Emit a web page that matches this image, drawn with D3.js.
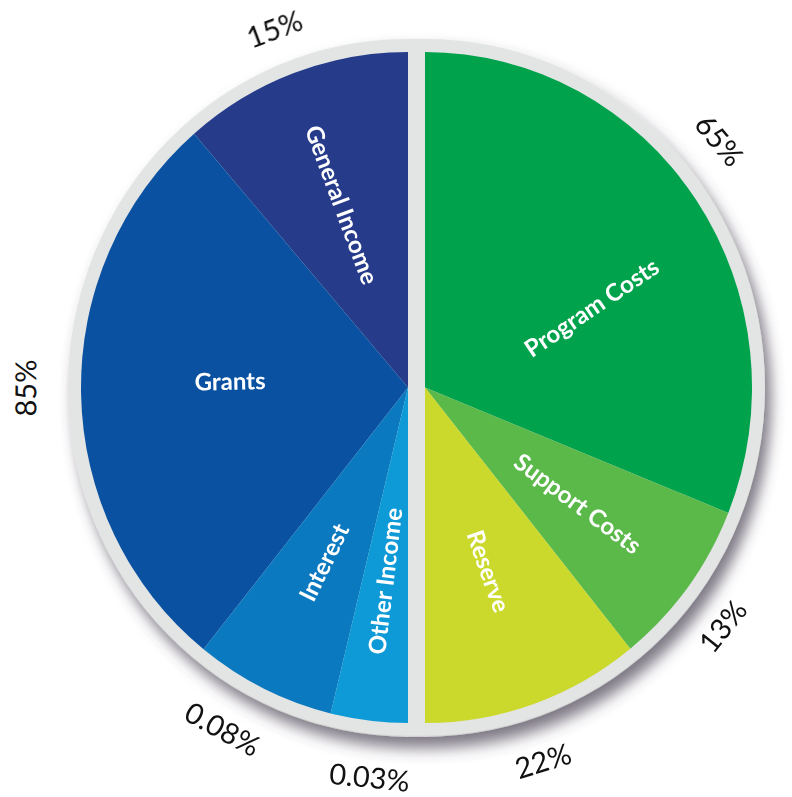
<!DOCTYPE html>
<html lang="en">
<head>
  <meta charset="UTF-8">
  <title>Income and Expenses</title>
  <script src="https://d3js.org/d3.v7.min.js"></script>
  <style>
    body { margin: 0; background: #ffffff; }
    .inner-label { fill: #ffffff; font-family: Lato, "Open Sans", sans-serif; font-weight: 700; font-size: 24px; }
    .pct-label { fill: #111111; font-family: Lato, "Open Sans", sans-serif; font-size: 29px; }
  </style>
</head>
<body>
  <script>
    // Income (left half, counter-clockwise from the top)
    const incomeNames = ["General Income", "Grants", "Interest", "Other Income"];
    const incomeShare = [22.7, 55.8, 13.9, 7.6];   // drawn slice sizes
    const incomePct = ["15%", "85%", "0.08%", "0.03%"];
    const incomeColors = ["#263c8b", "#0a52a1", "#0a79bf", "#0d9ad7"];

    // Expenses (right half, clockwise from the top)
    const expenseNames = ["Program Costs", "Support Costs", "Reserve"];
    const expenseShare = [62.2, 16.2, 21.6];
    const expensePct = ["65%", "13%", "22%"];
    const expenseColors = ["#00a24c", "#5bb94a", "#cbd92c"];

    const width = 792, height = 797;
    const cy = 387.5, leftCx = 408, rightCx = 425;
    const radius = 327, ring = 13, squash = 1.026;

    // small hand nudges for label placement: [degrees along the half, extra radius px]
    const nameNudge = { "Program Costs": [9, -6], "Grants": [-3, -12] };
    const pctNudge = {
      "85%": [-1, 0], "0.08%": [-2.3, 7], "0.03%": [1.2, 10],
      "65%": [-6, 2], "13%": [2.2, 0], "22%": [1.9, 10]
    };

    const svg = d3.select("body").append("svg")
      .attr("width", width)
      .attr("height", height);

    const defs = svg.append("defs");
    defs.append("filter")
      .attr("id", "shadow")
      .attr("x", "-20%").attr("y", "-20%")
      .attr("width", "140%").attr("height", "140%")
      .append("feDropShadow")
      .attr("dx", 6).attr("dy", 11)
      .attr("stdDeviation", 7)
      .attr("flood-color", "#46404f")
      .attr("flood-opacity", 0.7);

    // gray backing: two semicircles + middle bar
    const back = svg.append("g")
      .attr("transform", `translate(0, ${cy}) scale(1, ${squash})`)
      .attr("filter", "url(#shadow)");
    const backArc = d3.arc().innerRadius(0).outerRadius(radius + ring);
    back.append("path")
      .attr("transform", `translate(${leftCx}, 0)`)
      .attr("d", backArc({ startAngle: 0, endAngle: -Math.PI }))
      .attr("fill", "#e3e4e4");
    back.append("path")
      .attr("transform", `translate(${rightCx}, 0)`)
      .attr("d", backArc({ startAngle: 0, endAngle: Math.PI }))
      .attr("fill", "#e3e4e4");
    back.append("rect")
      .attr("x", leftCx - 1).attr("y", -(radius + ring))
      .attr("width", rightCx - leftCx + 2).attr("height", 2 * (radius + ring))
      .attr("fill", "#e3e4e4");

    const arc = d3.arc().innerRadius(0).outerRadius(radius);

    function drawHalf(names, share, pcts, colors, cx, dir) {
      const pie = d3.pie().sort(null).startAngle(0).endAngle(dir * Math.PI);
      const arcs = pie(share).map((d, i) => ({ ...d, name: names[i], pct: pcts[i], color: colors[i] }));

      svg.append("g")
        .attr("transform", `translate(${cx}, ${cy}) scale(1, ${squash})`)
        .selectAll("path")
        .data(arcs)
        .enter().append("path")
        .attr("d", arc)
        .attr("fill", d => d.color);

      const labels = svg.append("g").attr("transform", `translate(${cx}, ${cy})`);

      // slice names, set along the radius
      labels.selectAll("text.inner-label")
        .data(arcs)
        .enter().append("text")
        .attr("class", "inner-label")
        .attr("text-anchor", "middle")
        .attr("dy", "0.35em")
        .attr("transform", d => {
          const mid = (d.startAngle + d.endAngle) / 2;
          const [da, dr] = nameNudge[d.name] || [0, 0];
          const a = mid + dir * da * Math.PI / 180;
          const r = 190 + dr;
          const x = r * Math.sin(a), y = -r * Math.cos(a) * squash;
          const deg = mid * 180 / Math.PI;
          const rot = dir > 0 ? deg - 90 : deg + 90;
          return `translate(${x}, ${y}) rotate(${rot})`;
        })
        .text(d => d.name);

      // percentages round the rim
      labels.selectAll("text.pct-label")
        .data(arcs)
        .enter().append("text")
        .attr("class", "pct-label")
        .attr("text-anchor", "middle")
        .attr("dy", "0.35em")
        .attr("transform", d => {
          const mid = (d.startAngle + d.endAngle) / 2;
          const [da, dr] = pctNudge[d.pct] || [0, 0];
          const a = mid + dir * da * Math.PI / 180;
          const r = 382 + dr;
          const x = r * Math.sin(a), y = -r * Math.cos(a);
          let deg = a * 180 / Math.PI;
          if (deg > 100) deg -= 180;
          if (deg < -100) deg += 180;
          return `translate(${x}, ${y}) rotate(${deg})`;
        })
        .text(d => d.pct);
    }

    drawHalf(incomeNames, incomeShare, incomePct, incomeColors, leftCx, -1);
    drawHalf(expenseNames, expenseShare, expensePct, expenseColors, rightCx, 1);
  </script>
</body>
</html>
